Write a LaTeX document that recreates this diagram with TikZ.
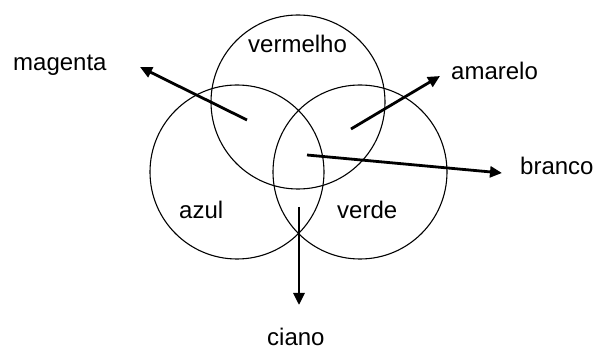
\documentclass[tikz,border=0pt]{standalone}
\usepackage{fontspec}
\setmainfont{Liberation Sans}
\usetikzlibrary{arrows.meta}
\begin{document}
\begin{tikzpicture}[x=1pt,y=-1pt,
  ring/.style={draw=black,line width=1.1pt,circle,minimum size=174pt,inner sep=0pt},
  lbl/.style={anchor=base west,inner sep=0pt,font=\fontsize{24}{28}\selectfont},
  arr/.style={line width=2.8pt,-{Triangle[length=12pt,width=11pt]}}]
\useasboundingbox (0,0) rectangle (598,352);
\node[ring] (red) at (298,102) {};
\node[ring] (blue) at (237,172) {};
\node[ring] (green) at (360,172) {};
\node[lbl] (tvermelho) at (248,53) {vermelho};
\node[lbl] (tmagenta) at (13,71) {magenta};
\node[lbl] (tamarelo) at (451,80) {amarelo};
\node[lbl] (tbranco) at (520,175) {branco};
\node[lbl] (tazul) at (179,219) {azul};
\node[lbl] (tverde) at (337,219) {verde};
\node[lbl] (tciano) at (267,346) {ciano};
\coordinate (m0) at (247,120); \coordinate (m1) at (140,67);
\coordinate (a0) at (351,129); \coordinate (a1) at (440,76);
\coordinate (b0) at (307,155); \coordinate (b1) at (502,173);
\coordinate (c0) at (299,207); \coordinate (c1) at (299,305);
\draw[arr] (m0) -- (m1);
\draw[arr] (a0) -- (a1);
\draw[arr] (b0) -- (b1);
\draw[arr] (c0) -- (c1);
\end{tikzpicture}
\end{document}
